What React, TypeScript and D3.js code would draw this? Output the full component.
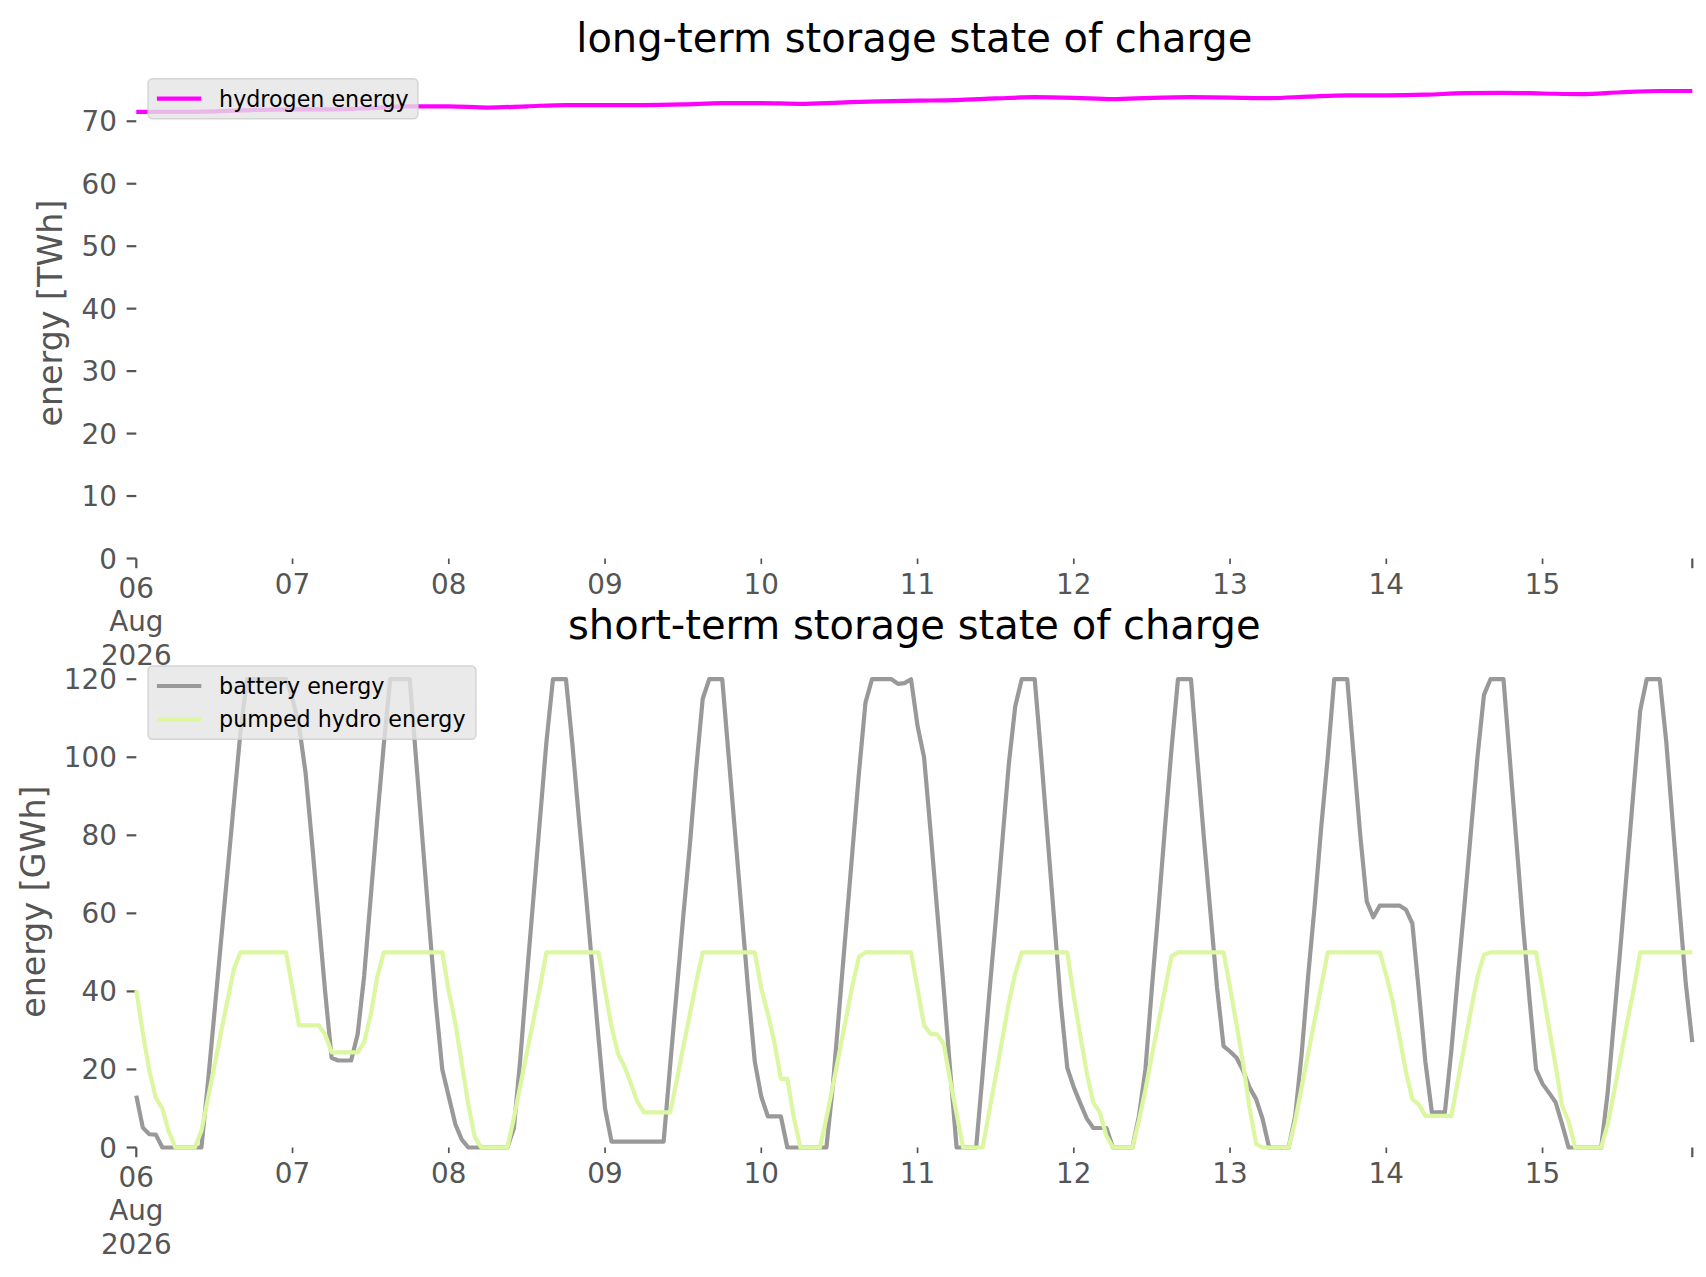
import * as d3 from 'd3'

// hourly series, starting 06 Aug 2026 00:00 (UTC)
const seriesStart = Date.UTC(2026, 7, 6)
const HOUR = 3600 * 1000

// battery state of charge [GWh]
const batteryEnergy = [
  // 06 Aug
  13.3, 5.1, 3.4, 3.3, 0, 0, 0, 0, 0, 0, 0, 16.6, 34.5, 52.6, 70.5, 88.5, 106.5, 120, 120, 120, 120, 120, 120, 120,
  // 07 Aug
  115, 108, 96, 78, 59, 40, 23, 22.3, 22.3, 22.3, 29, 44, 64, 84, 103, 120, 120, 120, 120, 99, 78, 57, 37, 20,
  // 08 Aug
  13, 6, 2, 0, 0, 0, 0, 0, 0, 0, 5, 23, 44, 64, 84, 104, 120, 120, 120, 103, 84, 66, 47, 28,
  // 09 Aug
  10, 1.5, 1.5, 1.5, 1.5, 1.5, 1.5, 1.5, 1.5, 1.5, 21, 40, 59, 77, 97, 115, 120, 120, 120, 100, 80, 60, 40, 22,
  // 10 Aug
  13, 8, 8, 8, 0, 0, 0, 0, 0, 0, 0, 16, 36, 56, 76, 96, 114, 120, 120, 120, 120, 118.8, 119, 120,
  // 11 Aug
  108, 100, 81, 61, 41, 20, 0, 0, 0, 0, 19, 39, 58, 78, 98, 113, 120, 120, 120, 100, 79, 58, 37, 20.4,
  // 12 Aug
  15.4, 11.3, 7.4, 5, 5, 5, 0, 0, 0, 0, 8, 20, 41, 61, 82, 102, 120, 120, 120, 99, 79, 60, 41, 26,
  // 13 Aug
  24.6, 23, 19.7, 15.4, 12.4, 7.3, 0, 0, 0, 0, 8, 24, 44, 62, 82, 100, 120, 120, 120, 100, 80, 63, 59, 62,
  // 14 Aug
  62, 62, 62, 61, 57.4, 40, 22, 9, 9, 9, 25, 44, 62, 81, 100, 116, 120, 120, 120, 99, 78, 57, 38, 20,
  // 15 Aug
  16.3, 14, 11.6, 6, 0, 0, 0, 0, 0, 0, 14, 33, 52, 72, 92, 112, 120, 120, 120, 104, 83, 62, 42, 27,
]

// pumped hydro state of charge [GWh]
const pumpedHydroEnergy = [
  // 06 Aug
  40.3, 29.4, 19.6, 12.7, 10, 4, 0, 0, 0, 0, 4.3, 12.5, 20.9, 29.4, 37.7, 45.8, 50, 50, 50, 50, 50, 50, 50, 50,
  // 07 Aug
  40.5, 31.3, 31.3, 31.3, 31.3, 29, 24.4, 24.4, 24.4, 24.4, 24.4, 27, 34, 43.6, 50, 50, 50, 50, 50, 50, 50, 50, 50, 50,
  // 08 Aug
  40, 32, 21.4, 11, 2.6, 0, 0, 0, 0, 0, 7.6, 16, 24.4, 32.6, 41, 50, 50, 50, 50, 50, 50, 50, 50, 50,
  // 09 Aug
  40.3, 30.9, 24, 20.7, 16.3, 11.6, 9, 9, 9, 9, 9, 17, 25.7, 33.9, 42.4, 50, 50, 50, 50, 50, 50, 50, 50, 50,
  // 10 Aug
  40.7, 34.3, 27, 17.6, 17.6, 7.7, 0, 0, 0, 0, 7.6, 15.9, 24.4, 33, 41.6, 48.9, 50, 50, 50, 50, 50, 50, 50, 50,
  // 11 Aug
  40.7, 31.3, 29.1, 29, 26.6, 17.3, 8.6, 0, 0, 0, 0, 9.2, 18.2, 27.6, 36.9, 44.6, 50, 50, 50, 50, 50, 50, 50, 50,
  // 12 Aug
  38.7, 28.6, 19, 11.5, 9, 3, 0, 0, 0, 0, 6.9, 14.8, 23.7, 32, 40.5, 49, 50, 50, 50, 50, 50, 50, 50, 50,
  // 13 Aug
  41, 31.4, 21.6, 10.1, 0.9, 0, 0, 0, 0, 0, 6.8, 15.5, 24.1, 32.7, 41.3, 50, 50, 50, 50, 50, 50, 50, 50, 50,
  // 14 Aug
  44.1, 37.2, 28.6, 19.5, 12.4, 11, 8.1, 8.1, 8.1, 8.1, 8.1, 17.2, 26.2, 35.2, 43.7, 49.4, 50, 50, 50, 50, 50, 50, 50, 50,
  // 15 Aug
  40.6, 30.6, 21, 10.7, 6.7, 0, 0, 0, 0, 0, 5.9, 14.3, 23.1, 32.1, 40.6, 50, 50, 50, 50, 50, 50, 50, 50, 50,
]

// hydrogen state of charge [TWh], read every 6 hours
const hydrogenHours = [
  0, 6, 12, 18, 24, 30, 36, 42, 48, 54, 60, 66, 72, 78, 84, 90, 96, 102, 108, 114,
  120, 126, 132, 138, 144, 150, 156, 162, 168, 174, 180, 186, 192, 198, 204, 210, 216, 222, 228, 234, 239,
]
const hydrogenEnergy = [
  71.5, 71.5, 71.6, 71.8, 71.9, 71.9, 72.1, 72.4, 72.4, 72.2, 72.4, 72.6, 72.6, 72.6, 72.7, 72.9, 72.9, 72.8, 73.0, 73.2,
  73.3, 73.4, 73.65, 73.85, 73.75, 73.55, 73.75, 73.85, 73.8, 73.7, 73.95, 74.15, 74.15, 74.25, 74.5, 74.55, 74.45, 74.35, 74.65, 74.85, 74.85,
]

const topTicks = [0, 10, 20, 30, 40, 50, 60, 70]
const bottomTicks = [0, 20, 40, 60, 80, 100, 120]

const FONT = 'DejaVu Sans'
const GREY = '#555555'

const W = 1706
const H = 1277
const plotLeft = 136.3
const plotRight = 1692.3

type Entry = { label: string; color: string }

function XAxis({ x, y0 }: { x: d3.ScaleTime<number, number>; y0: number }) {
  const [t0, t1] = x.domain()
  const days = d3.utcDay.range(t0, new Date(+t1 + 1))
  const fmt = d3.utcFormat('%d')
  return (
    <g fontFamily={FONT} fontSize={27.8} fill={GREY}>
      {days.map((d, i) => {
        const major = i === 0
        const len = major ? 9.7 : 5.6
        return (
          <g key={+d} transform={`translate(${x(d)},${y0})`}>
            <line y2={len} stroke={GREY} strokeWidth={major ? 2.2 : 1.7} />
            <text textAnchor="middle" y={major ? 39.5 : 35.5}>
              <tspan x={0}>{fmt(d)}</tspan>
              {major && (
                <>
                  <tspan x={0} dy={33.4}>{d3.utcFormat('%b')(d)}</tspan>
                  <tspan x={0} dy={33.4}>{d3.utcFormat('%Y')(d)}</tspan>
                </>
              )}
            </text>
          </g>
        )
      })}
      <line x1={x(t1)} x2={x(t1)} y1={y0} y2={y0 + 9.7} stroke={GREY} strokeWidth={2.2} />
    </g>
  )
}

function YAxis({ y, ticks }: { y: d3.ScaleLinear<number, number>; ticks: number[] }) {
  return (
    <g fontFamily={FONT} fontSize={27.8} fill={GREY}>
      {ticks.map((t) => (
        <g key={t} transform={`translate(${plotLeft},${y(t)})`}>
          <line x2={-9.7} stroke={GREY} strokeWidth={2.2} />
          <text x={-19.4} dy="0.36em" textAnchor="end">
            {t}
          </text>
        </g>
      ))}
    </g>
  )
}

function Legend({ top, width, entries }: { top: number; width: number; entries: Entry[] }) {
  const left = 148
  const rowH = 33.3
  const height = 17.8 + 22.2 + (entries.length - 1) * rowH
  return (
    <g>
      <rect x={left} y={top} width={width} height={height} rx={4.5} fill="#e5e5e5" fillOpacity={0.8} stroke="#cccccc" strokeOpacity={0.8} strokeWidth={1.4} />
      {entries.map((e, i) => {
        const cy = top + 8.9 + 11.1 + i * rowH
        return (
          <g key={e.label}>
            <line x1={left + 8.9} x2={left + 53.3} y1={cy} y2={cy} stroke={e.color} strokeWidth={4.2} />
            <text x={left + 71.1} y={cy + 7.8} fontFamily={FONT} fontSize={22.2} fill="#000">
              {e.label}
            </text>
          </g>
        )
      })}
    </g>
  )
}

export default function App() {
  const t0 = new Date(seriesStart)
  const tEnd = new Date(seriesStart + (batteryEnergy.length - 1) * HOUR)
  const x = d3.scaleUtc([t0, tEnd], [plotLeft, plotRight])

  const topBase = 558.5
  const botBase = 1147.5
  const yTop = d3.scaleLinear([0, d3.max(hydrogenEnergy)! * 1.05], [topBase, 67.6])
  const yBot = d3.scaleLinear([0, d3.max(batteryEnergy)! * 1.05], [botBase, 655.8])

  const hourly = (y: d3.ScaleLinear<number, number>) =>
    d3
      .line<number>()
      .x((_, i) => x(new Date(seriesStart + i * HOUR)))
      .y((d) => y(d))

  const h2Line = d3
    .line<number>()
    .x((_, i) => x(new Date(seriesStart + hydrogenHours[i] * HOUR)))
    .y((d) => yTop(d))
    .curve(d3.curveMonotoneX)

  const midX = (plotLeft + plotRight) / 2

  return (
    <svg width={W} height={H} style={{ position: 'absolute', left: 0, top: 0, background: '#fff' }}>
      <rect width={W} height={H} fill="#fff" />

      {/* long-term storage */}
      <text x={midX} y={51.5} textAnchor="middle" fontFamily={FONT} fontSize={40} fill="#000">
        long-term storage state of charge
      </text>
      <YAxis y={yTop} ticks={topTicks} />
      <XAxis x={x} y0={topBase} />
      <text transform={`translate(62,${(topBase + 67.6) / 2}) rotate(-90)`} textAnchor="middle" fontFamily={FONT} fontSize={33.3} fill={GREY}>
        energy [TWh]
      </text>
      <path d={h2Line(hydrogenEnergy)!} fill="none" stroke="#ff00ff" strokeWidth={4.2} />
      <Legend top={78.7} width={270} entries={[{ label: 'hydrogen energy', color: '#ff00ff' }]} />

      {/* short-term storage */}
      <text x={midX} y={638.5} textAnchor="middle" fontFamily={FONT} fontSize={40} fill="#000">
        short-term storage state of charge
      </text>
      <YAxis y={yBot} ticks={bottomTicks} />
      <XAxis x={x} y0={botBase} />
      <text transform={`translate(45,${(botBase + 655.8) / 2}) rotate(-90)`} textAnchor="middle" fontFamily={FONT} fontSize={33.3} fill={GREY}>
        energy [GWh]
      </text>
      <path d={hourly(yBot)(batteryEnergy)!} fill="none" stroke="#999999" strokeWidth={4.2} strokeLinejoin="round" />
      <path d={hourly(yBot)(pumpedHydroEnergy)!} fill="none" stroke="#dcf7a1" strokeWidth={4.2} strokeLinejoin="round" />
      <Legend
        top={666}
        width={328}
        entries={[
          { label: 'battery energy', color: '#999999' },
          { label: 'pumped hydro energy', color: '#dcf7a1' },
        ]}
      />
    </svg>
  )
}
